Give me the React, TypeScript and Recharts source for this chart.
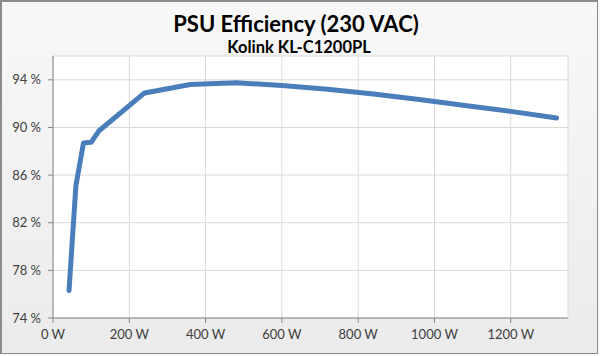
import React from "react";
import { LineChart, Line, XAxis, YAxis, CartesianGrid } from "recharts";

const loadWatts = [42, 60, 80, 100, 120, 240, 360, 480, 600, 720, 840, 960, 1080, 1200, 1320];
const efficiency = [76.3, 85.1, 88.7, 88.75, 89.7, 92.9, 93.6, 93.75, 93.52, 93.2, 92.8, 92.35, 91.85, 91.35, 90.8];
const xTicks = [0, 200, 400, 600, 800, 1000, 1200];
const yTicks = [74, 78, 82, 86, 90, 94];
const title = "PSU Efficiency (230 VAC)";
const subtitle = "Kolink KL-C1200PL";

const data = loadWatts.map((w, i) => ({ w, eff: efficiency[i] }));

const font = "Lato, 'Open Sans', sans-serif";

export default function App() {
  return (
    <div
      style={{
        position: "absolute",
        left: 0,
        top: 0,
        width: 600,
        height: 356,
        background: "#fafafa",
        fontFamily: font,
      }}
    >
      <div
        style={{
          position: "absolute",
          left: 0,
          top: 0,
          width: 598,
          height: 354,
          border: "1px solid #8c8c8c",
          borderTopWidth: 2,
          borderLeftWidth: 2,
          boxSizing: "border-box",
          background: "linear-gradient(#f8f8f8, #ebebeb)",
        }}
      />
      <div
        style={{
          position: "absolute",
          top: 9,
          left: 0,
          width: 592,
          textAlign: "center",
          fontSize: 22,
          fontWeight: 700,
          color: "#000",
          lineHeight: "30px",
        }}
      >
        {title}
      </div>
      <div
        style={{
          position: "absolute",
          top: 37,
          left: 0,
          width: 598,
          textAlign: "center",
          fontSize: 16.5,
          fontWeight: 700,
          color: "#000",
          lineHeight: "20px",
        }}
      >
        {subtitle}
      </div>
      <div style={{ position: "absolute", left: 0, top: 0 }}>
        <LineChart
          width={600}
          height={356}
          data={data}
          margin={{ top: 56, right: 32, left: 0, bottom: 0 }}
        >
          <CartesianGrid
            stroke="#d9d9d9"
            strokeWidth={1}
            horizontalValues={[74, 78, 82, 86, 90, 94, 96]}
            verticalValues={[0, 200, 400, 600, 800, 1000, 1200, 1350]}
            fill="#ffffff"
          />
          <XAxis
            dataKey="w"
            type="number"
            domain={[0, 1350]}
            ticks={xTicks}
            tickFormatter={(v) => `${v} W`}
            height={38}
            stroke="#868686"
            tickSize={5}
            tickMargin={7}
            tick={{ fill: "#404040", fontSize: 13, fontFamily: font }}
            allowDataOverflow
          />
          <YAxis
            type="number"
            domain={[74, 96]}
            ticks={yTicks}
            tickFormatter={(v) => `${v} %`}
            width={53}
            stroke="#868686"
            tickSize={5}
            tickMargin={7}
            tick={{ fill: "#404040", fontSize: 13, fontFamily: font }}
            allowDataOverflow
          />
          <Line
            type="linear"
            dataKey="eff"
            stroke="#4a7ebb"
            strokeWidth={5}
            dot={false}
            strokeLinecap="round"
            strokeLinejoin="round"
            isAnimationActive={false}
          />
        </LineChart>
      </div>
    </div>
  );
}
